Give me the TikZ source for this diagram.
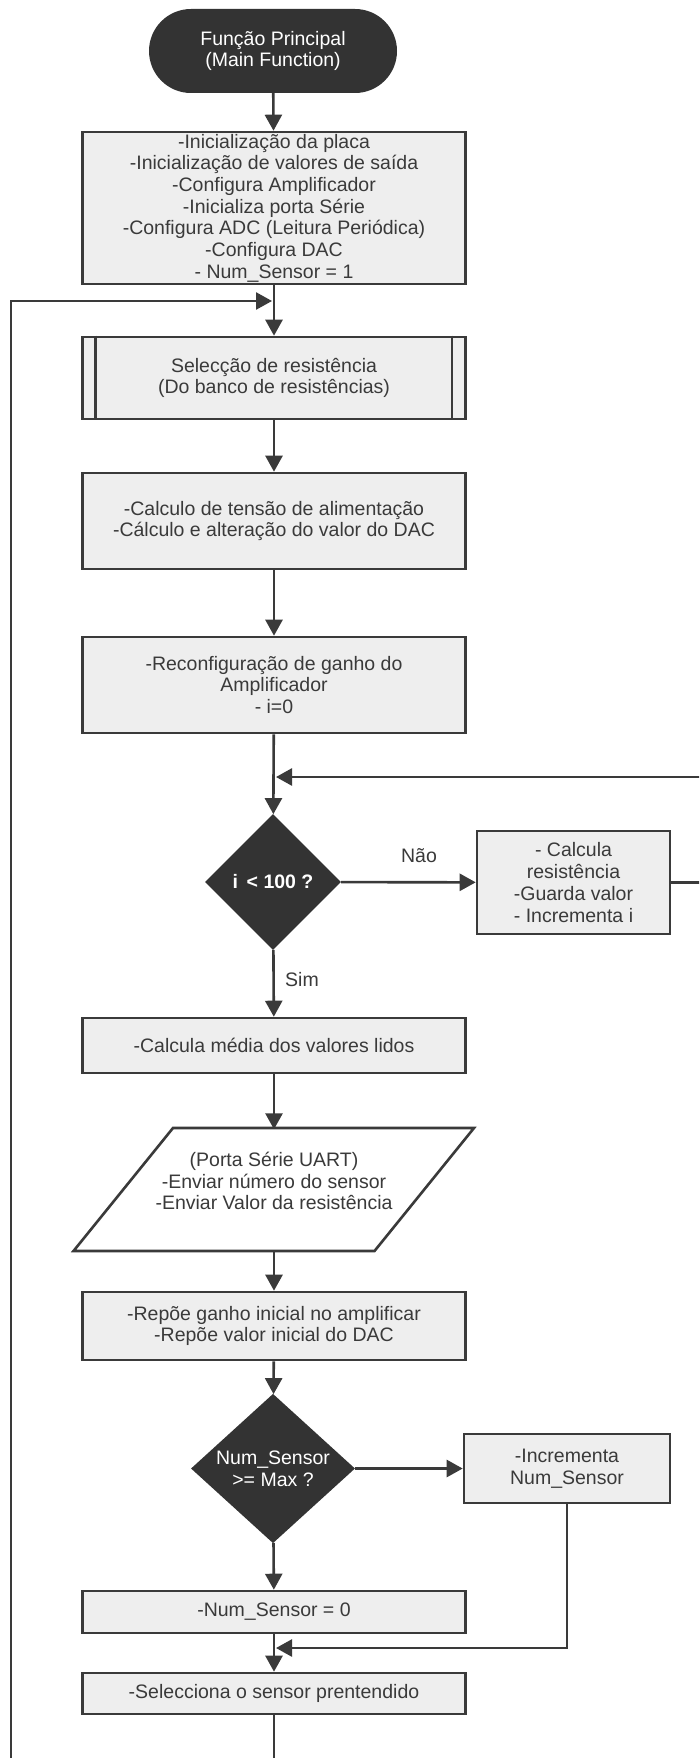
\documentclass[tikz,border=0pt]{standalone}
\usepackage{fontspec}
\setmainfont{Liberation Sans}
\usepackage{tikz}
\usetikzlibrary{arrows.meta,positioning,shapes.geometric}
\definecolor{darkfill}{HTML}{333333}
\definecolor{boxfill}{HTML}{EEEEEE}
\definecolor{linegray}{HTML}{3A3A3A}

\begin{document}
\begin{tikzpicture}[
x=1pt, y=-1pt,
font=\fontsize{19.5}{21.7}\selectfont,
text=linegray,
>={Triangle[length=16pt,width=17pt]},
terminal/.style={rectangle, rounded corners=42pt, fill=darkfill, text=white, minimum width=248pt, minimum height=84pt, align=center, inner sep=0pt},
process/.style={rectangle, draw=linegray, fill=boxfill, line width=2.6pt, minimum width=383pt, align=center, inner sep=0pt},
decision/.style={diamond, fill=darkfill, text=white, align=center, inner sep=0pt},
flow/.style={->, draw=linegray, line width=2.6pt}
]
    % page
    \path[use as bounding box, fill=white] (0,0) rectangle (699,1758);
    \clip (0,0) rectangle (699,1758);

    % Main column
    \node[terminal] (start) at (273,51) {Função Principal\\(Main Function)};
    \node[process, minimum height=152pt] (init) at (274,208)
        {-Inicialização da placa\\-Inicialização de valores de saída\\-Configura Amplificador\\-Inicializa porta Série\\-Configura ADC (Leitura Periódica)\\-Configura DAC\\- Num\_Sensor = 1};
    \node[process, minimum height=82pt] (resel) at (274,378) {Selecção de resistência\\(Do banco de resistências)};
    \draw[linegray, line width=2.6pt] ([xshift=14pt]resel.north west) -- ([xshift=14pt]resel.south west);
    \draw[linegray, line width=2.6pt] ([xshift=-15pt]resel.north east) -- ([xshift=-15pt]resel.south east);
    \node[process, minimum height=96pt] (dacset) at (274,521) {-Calculo de tensão de alimentação\\-Cálculo e alteração do valor do DAC};
    \node[process, minimum height=96pt] (gain) at (274,685) {-Reconfiguração de ganho do\\Amplificador\\- i=0};
    \node[decision, minimum width=136pt, minimum height=136pt, font=\fontsize{19.5}{21.7}\selectfont\bfseries] (itest) at (273,882) {i\, < 100 ?};
    \node[process, minimum width=193pt, minimum height=103pt] (calcres) at (573.5,882.5) {- Calcula\\resistência\\-Guarda valor\\- Incrementa i};
    \node[process, minimum height=55pt] (media) at (274,1045.5) {-Calcula média dos valores lidos};
    % serial port output (parallelogram)
    \draw[linegray, fill=white, line width=2.6pt] (173,1128) coordinate (uarttop) -- (474,1128) -- (374.5,1251) -- (73.5,1251) -- cycle;
    \coordinate (uartin) at (274,1128);
    \coordinate (uartout) at (274,1251);
    \node[align=center, inner sep=0pt] (uart) at (274,1181) {(Porta Série UART)\\-Enviar número do sensor\\-Enviar Valor da resistência};
    \node[process, minimum height=68pt] (reset) at (274,1326) {-Repõe ganho inicial no amplificar\\-Repõe valor inicial do DAC};
    \node[decision, minimum width=164pt, minimum height=135pt] (maxtest) at (273,1468.5) {Num\_Sensor\\>= Max ?};
    \node[process, minimum width=206pt, minimum height=69pt] (incr) at (567,1468.5) {-Incrementa\\Num\_Sensor};
    \node[process, minimum height=42pt] (zero) at (274,1612) {-Num\_Sensor = 0};
    \node[process, minimum height=41pt] (pick) at (274,1693.5) {-Selecciona o sensor prentendido};

    \coordinate (loopin) at (272,301);
    \coordinate (iloop) at (276,777);
    \coordinate (merge) at (276,1648);

    % Arrows
    \draw[flow] (start) -- (init);
    \draw[flow] (init) -- (resel);
    \draw[flow] (resel) -- (dacset);
    \draw[flow] (dacset) -- (gain);
    \draw[flow] (gain) -- (itest);
    \draw[flow] (itest) -- (calcres);
    \node (nao) at (419,856) {Não};
    \draw[flow] (itest) -- (media);
    \node[anchor=west, inner sep=0pt] (sim) at (285,980) {Sim};
    \draw[flow] (calcres.east) -- ++(60,0) |- (iloop);
    \draw[flow] (media) -- ([yshift=-1.3pt]uartin);
    \draw[flow] (uartout) -- (reset);
    \draw[flow] (reset) -- (maxtest);
    \draw[flow] (maxtest) -- (incr);
    \draw[flow] (maxtest) -- (zero);
    \draw[flow] (incr.south) |- (merge);
    \draw[flow] (zero) -- (pick);
    \draw[flow] (pick.south) -- ++(0,80) -| (11,301) -- (loopin);

\end{tikzpicture}
\end{document}
